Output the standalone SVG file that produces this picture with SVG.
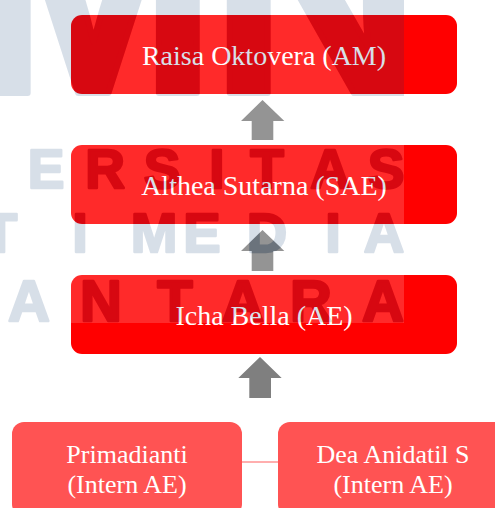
<svg xmlns="http://www.w3.org/2000/svg" xmlns:xlink="http://www.w3.org/1999/xlink" width="495" height="508" viewBox="0 0 495 508">
<style>
.box{fill:#FF0000}
.intern{fill:#FF5353}
.lbl{font-family:"Liberation Serif","Times New Roman",serif;fill:#FFFFFF;text-anchor:middle}
.big{font-size:28px}
.small{font-size:26px}
.arrow{fill:#7F7F7F}
.link{stroke:#FF5F5F;stroke-width:1.2;fill:none}
.wm{font-family:"Liberation Sans",Arial,sans-serif;font-weight:bold;stroke-linejoin:round;stroke-linecap:round}
</style>
<defs>
<g id="wmtext" class="wm">
<text x="-30 210" y="93" font-size="296" stroke-width="6">MN</text>
<text x="46 105 162 217 267 330 386" y="188" font-size="55" stroke-width="2.5" text-anchor="middle">ERSITAS</text>
<text x="0 80 154 202 267 333 384" y="252" font-size="56" stroke-width="2.5" text-anchor="middle">TIMEDIA</text>
<text x="29 101 175 243 311 383" y="321" font-size="58" stroke-width="2.5" text-anchor="middle">ANTARA</text>
</g>
<clipPath id="wclip"><rect x="0" y="0" width="404" height="323"/></clipPath>
<mask id="wmask" maskUnits="userSpaceOnUse" x="0" y="0" width="404" height="323">
<rect x="0" y="0" width="404" height="323" fill="#FFFFFF"/>
<use xlink:href="#wmtext" href="#wmtext" fill="#000000" stroke="#000000"/>
</mask>
</defs>
<rect width="495" height="508" fill="#FFFFFF"/>
<g id="node-am">
<rect class="box" x="71" y="15" width="386" height="79" rx="11"/>
<text class="lbl big" x="264" y="64.5">Raisa Oktovera (AM)</text>
</g>
<g id="node-sae">
<rect class="box" x="71" y="145" width="386" height="79" rx="11"/>
<text class="lbl big" x="264" y="194.5">Althea Sutarna (SAE)</text>
</g>
<g id="node-ae">
<rect class="box" x="71" y="275" width="386" height="79" rx="11"/>
<text class="lbl big" x="264" y="324.5">Icha Bella (AE)</text>
</g>
<g id="node-intern1">
<rect class="intern" x="12" y="422" width="230" height="94" rx="12"/>
<text class="lbl small" x="127" y="463">Primadianti</text>
<text class="lbl small" x="127" y="493">(Intern AE)</text>
</g>
<g id="node-intern2">
<rect class="intern" x="278" y="422" width="230" height="94" rx="12"/>
<text class="lbl small" x="393" y="463">Dea Anidatil S</text>
<text class="lbl small" x="393" y="493">(Intern AE)</text>
</g>
<g id="connectors">
<polygon class="arrow" points="262.5,100 284.3,121 273.3,121 273.3,140 251.7,140 251.7,121 241,121"/>
<polygon class="arrow" points="262.5,230 284.3,251 273.3,251 273.3,271 251.7,271 251.7,251 241,251"/>
<polygon class="arrow" points="260,357 281.7,378 271,378 271,398 249.3,398 249.3,378 238.3,378"/>
<line class="link" x1="242" y1="462" x2="278" y2="462"/>
</g>
<g id="watermark">
<rect x="0" y="0" width="404" height="323" fill="#FFFFFF" fill-opacity="0.165" mask="url(#wmask)"/>
<g clip-path="url(#wclip)">
<use xlink:href="#wmtext" href="#wmtext" fill="#00346F" stroke="#00346F" opacity="0.153"/>
</g>
</g>
</svg>
